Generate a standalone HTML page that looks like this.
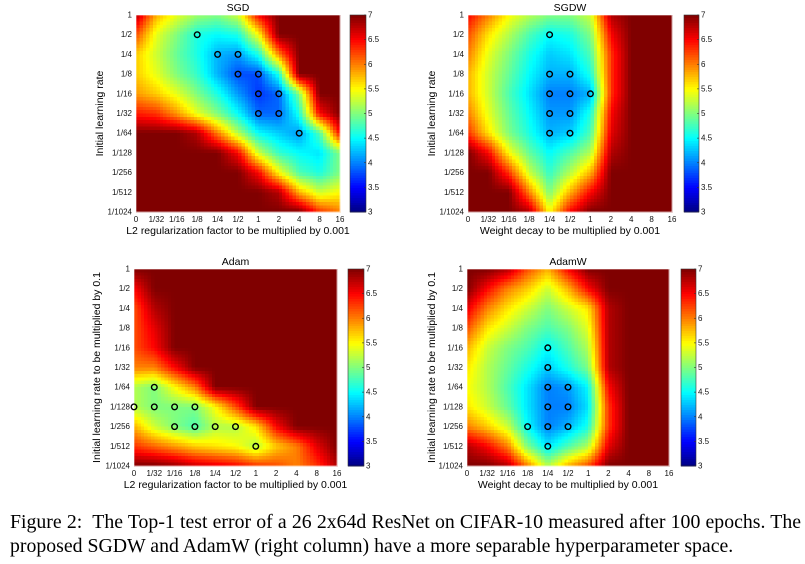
<!DOCTYPE html>
<html><head><meta charset="utf-8">
<style>
body{margin:0;background:#fff;width:805px;height:564px;overflow:hidden;}
.cap{position:absolute;left:10px;width:791px;font-family:"Liberation Serif",serif;font-size:19.8px;line-height:24px;color:#000;white-space:nowrap;}
#cap1{top:510px;text-align:justify;text-align-last:justify;white-space:normal;}
#cap2{top:534px;}
svg{position:absolute;left:0;top:0;}
</style></head><body>
<svg id="fig" width="805" height="500" font-family="Liberation Sans, Arial, sans-serif"></svg>
<div id="cap1" class="cap">Figure 2:&nbsp; The Top-1 test error of a 26 2x64d ResNet on CIFAR-10 measured after 100 epochs. The</div>
<div id="cap2" class="cap">proposed SGDW and AdamW (right column) have a more separable hyperparameter space.</div>
<script>
const xTickLabels=["0","1/32","1/16","1/8","1/4","1/2","1","2","4","8","16"];
const yTickLabels=["1","1/2","1/4","1/8","1/16","1/32","1/64","1/128","1/256","1/512","1/1024"];
const cbTicks=[3,3.5,4,4.5,5,5.5,6,6.5,7];
const sgdGrid=[
[6.8,5.8,5.4,5.1,5.0,5.3,6.5,7,7,7,7],
[6.2,5.4,5.0,4.6,4.5,4.6,5.5,7,7,7,7],
[5.7,5.3,4.9,4.6,4.2,4.1,4.6,6.0,7,7,7],
[5.7,5.4,5.0,4.7,4.2,3.8,3.8,4.6,7,7,7],
[5.9,5.7,5.4,5.0,4.6,4.1,3.7,3.9,5.0,7,7],
[6.4,6.3,5.9,5.4,5.0,4.5,3.9,3.9,4.6,6.5,7],
[7,7,7,6.8,6.0,5.2,4.5,4.3,4.1,4.8,6.5],
[7,7,7,7,7,6.5,5.3,4.7,4.5,4.4,5.0],
[7,7,7,7,7,7,6.5,5.5,4.8,4.6,5.0],
[7,7,7,7,7,7,7,6.8,5.8,5.3,5.5],
[7,7,7,7,7,7,7,7,7,6.3,6.0]];
const sgdBest=[[3,1],[4,2],[5,2],[5,3],[6,3],[6,4],[7,4],[6,5],[7,5],[8,6]];
const sgdwGrid=[
[6.5,6.0,5.5,5.2,5.0,5.0,5.3,6.8,7,7,7],
[6.2,5.6,5.2,4.8,4.5,4.6,5.0,6.5,7,7,7],
[6.0,5.4,5.0,4.6,4.3,4.4,4.8,6.3,7,7,7],
[5.8,5.3,4.9,4.5,4.2,4.2,4.6,6.3,7,7,7],
[5.8,5.3,4.8,4.4,4.0,4.0,4.2,6.3,7,7,7],
[6.0,5.4,4.9,4.5,4.1,4.1,4.6,6.5,7,7,7],
[6.3,5.6,5.0,4.6,4.2,4.3,4.8,6.6,7,7,7],
[7,6.5,5.5,4.9,4.5,4.8,5.2,6.8,7,7,7],
[7,7,6.3,5.3,4.7,5.2,5.8,7,7,7,7],
[7,7,7,6.0,5.0,5.8,6.5,7,7,7,7],
[7,7,7,6.8,5.5,6.5,7,7,7,7,7]];
const sgdwBest=[[4,1],[4,3],[5,3],[4,4],[5,4],[6,4],[4,5],[5,5],[4,6],[5,6]];
const adamGrid=[
[7,7,7,7,7,7,7,7,7,7,7],
[6.5,7,7,7,7,7,7,7,7,7,7],
[6.2,6.8,7,7,7,7,7,7,7,7,7],
[6.2,6.6,7,7,7,7,7,7,7,7,7],
[6.2,6.5,7,7,7,7,7,7,7,7,7],
[6.0,6.0,6.5,7,7,7,7,7,7,7,7],
[5.2,5.0,5.5,6.0,7,7,7,7,7,7,7],
[5.2,5.0,5.0,5.0,5.5,6.2,7,7,7,7,7],
[5.8,5.3,5.0,4.8,5.2,5.2,5.6,6.5,7,7,7],
[6.3,6.1,5.9,5.7,5.6,5.5,5.2,5.7,6.0,6.6,7],
[7,7,6.9,6.7,6.6,6.5,6.3,6.2,6.0,6.3,6.8]];
const adamBest=[[1,6],[0,7],[1,7],[2,7],[3,7],[2,8],[3,8],[4,8],[5,8],[6,9]];
const adamwGrid=[
[7,7,6.8,6.2,5.8,6.5,7,7,7,7,7],
[7,6.5,6.0,5.7,5.3,5.8,6.5,7,7,7,7],
[6.6,6.0,5.6,5.3,5.0,5.3,5.6,6.8,7,7,7],
[6.2,5.6,5.3,5.0,4.8,5.0,5.4,6.8,7,7,7],
[5.8,5.3,5.0,4.8,4.5,4.8,5.2,6.8,7,7,7],
[5.6,5.2,4.9,4.6,4.3,4.6,5.0,6.8,7,7,7],
[5.5,5.2,4.8,4.4,4.0,4.1,4.5,6.5,7,7,7],
[5.6,5.3,4.9,4.4,4.0,4.0,4.4,6.3,7,7,7],
[6.0,5.7,5.3,4.5,4.0,4.2,4.6,6.3,7,7,7],
[6.8,6.5,6.0,5.0,4.4,4.8,5.2,6.6,7,7,7],
[7,7,6.8,6.0,5.2,5.8,6.2,7,7,7,7]];
const adamwBest=[[4,4],[4,5],[4,6],[5,6],[4,7],[5,7],[3,8],[4,8],[5,8],[4,9]];

const NS="http://www.w3.org/2000/svg";
const svg=document.getElementById('fig');
function mk(tag,attrs,parent){const e=document.createElementNS(NS,tag);for(const k in attrs)e.setAttribute(k,attrs[k]);(parent||svg).appendChild(e);return e;}
function jet(v){let t=(v-3)/4;t=Math.max(0,Math.min(1,t));
 const f=x=>Math.max(0,Math.min(1,x));
 const r=f(Math.min(4*t-1.5,-4*t+4.5)),g=f(Math.min(4*t-0.5,-4*t+3.5)),b=f(Math.min(4*t+0.5,-4*t+2.5));
 return `rgb(${Math.round(r*255)},${Math.round(g*255)},${Math.round(b*255)})`;}
const panels=[
 {name:'sgd',title:'SGD',grid:sgdGrid,best:sgdBest,x0:136,y0:15,w:204,h:197,cb:350,cbw:16,yl:103,xlab:'L2 regularization factor to be multiplied by 0.001',ylab:'Initial learning rate'},
 {name:'sgdw',title:'SGDW',grid:sgdwGrid,best:sgdwBest,x0:468,y0:15,w:204,h:197,cb:684,cbw:15,yl:435,xlab:'Weight decay to be multiplied by 0.001',ylab:'Initial learning rate'},
 {name:'adam',title:'Adam',grid:adamGrid,best:adamBest,x0:134,y0:269,w:203,h:197,cb:348,cbw:16,yl:100,xlab:'L2 regularization factor to be multiplied by 0.001',ylab:'Initial learning rate to be multiplied by 0.1'},
 {name:'adamw',title:'AdamW',grid:adamwGrid,best:adamwBest,x0:467,y0:269,w:202,h:197,cb:681,cbw:15,yl:435,xlab:'Weight decay to be multiplied by 0.001',ylab:'Initial learning rate to be multiplied by 0.1'}];
const S=6;
panels.forEach(p=>{
 const g=mk('g',{});
 
 
 const nx=xTickLabels.length-1, ny=yTickLabels.length-1;
 const xs=i=>p.x0+i*p.w/nx, ys=j=>p.y0+j*p.h/ny;
 const hm=mk('g',{'shape-rendering':'crispEdges'},g);
 
 
 for(let j=0;j<ny;j++)for(let i=0;i<nx;i++){
  const a=p.grid[j][i],b=p.grid[j][i+1],c=p.grid[j+1][i],d=p.grid[j+1][i+1];
  const cw=(xs(i+1)-xs(i))/S,ch=(ys(j+1)-ys(j))/S;
  for(let sj=0;sj<S;sj++)for(let si=0;si<S;si++){
   const u=(si+0.5)/S,v=(sj+0.5)/S;
   const val=a*(1-u)*(1-v)+b*u*(1-v)+c*(1-u)*v+d*u*v;
   const r=mk('rect',{x:(xs(i)+si*cw).toFixed(2),y:(ys(j)+sj*ch).toFixed(2),width:(cw+0.6).toFixed(2),height:(ch+0.6).toFixed(2),fill:jet(val)},hm);
   
   
  }}
 mk('rect',{x:p.x0,y:p.y0,width:p.w,height:p.h,fill:'none',stroke:'#fff','stroke-width':0.6},g);
 p.best.forEach(([ci,rj])=>{
  const c=mk('circle',{cx:xs(ci),cy:ys(rj),r:2.8,fill:'none',stroke:'#000','stroke-width':1.4},g);
  
  
 });
 xTickLabels.forEach((t,i)=>{const e=mk('text',{x:xs(i),y:p.y0+p.h+10,'font-size':8,'text-anchor':'middle',fill:'#111'},g);e.textContent=t;
  });
 yTickLabels.forEach((t,j)=>{const e=mk('text',{x:p.x0-4,y:ys(j)+2.5,'font-size':8,'text-anchor':'end',fill:'#111'},g);e.textContent=t;
  });
 const tt=mk('text',{x:p.x0+p.w/2,y:p.y0-4,'font-size':10.5,'text-anchor':'middle'},g);tt.textContent=p.title;
 
 const xl=mk('text',{x:p.x0+p.w/2,y:p.y0+p.h+22,'font-size':10.5,'text-anchor':'middle'},g);xl.textContent=p.xlab;
 
 const cy=p.y0+p.h/2;
 const yl=mk('text',{x:p.yl,y:cy,'font-size':10.5,'text-anchor':'middle',transform:`rotate(-90 ${p.yl} ${cy})`},g);yl.textContent=p.ylab;
 
 const cbg=mk('g',{'shape-rendering':'crispEdges'},g);
 
 
 const N=80,lo=cbTicks[0],hi=cbTicks[cbTicks.length-1];
 for(let k=0;k<N;k++){const v=lo+(k+0.5)/N*(hi-lo);
  mk('rect',{x:p.cb,y:(p.y0+p.h-(k+1)*p.h/N).toFixed(2),width:p.cbw,height:(p.h/N+0.6).toFixed(2),fill:jet(v)},cbg);}
 mk('rect',{x:p.cb,y:p.y0,width:p.cbw,height:p.h,fill:'none',stroke:'#333','stroke-width':0.6},g);
 cbTicks.forEach(t=>{const y=p.y0+p.h-(t-lo)/(hi-lo)*p.h;
  mk('line',{x1:p.cb+p.cbw-2,x2:p.cb+p.cbw,y1:y,y2:y,stroke:'#333','stroke-width':0.6},g);
  const e=mk('text',{x:p.cb+p.cbw+2,y:y+2.5,'font-size':8,fill:'#111'},g);e.textContent=String(t);
  });
});
</script>
</body></html>
